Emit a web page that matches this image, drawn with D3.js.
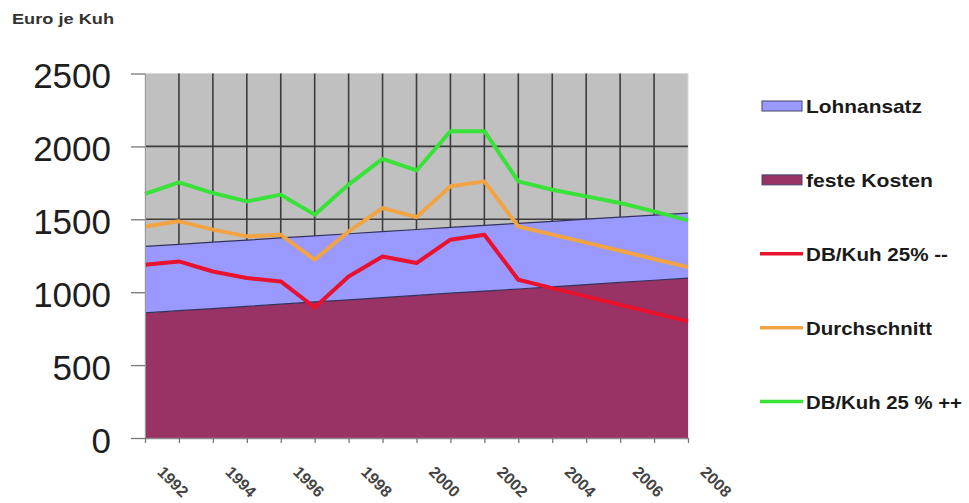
<!DOCTYPE html>
<html>
<head>
<meta charset="utf-8">
<script src="https://cdn.jsdelivr.net/npm/d3@7"></script>
<style>
  html, body { margin: 0; padding: 0; background: #ffffff; }
  svg { display: block; font-family: "Liberation Sans", Arial, sans-serif; }
</style>
</head>
<body>
<svg id="chart" width="969" height="503"></svg>
<script>
// ---- data ----
const years = [1992,1993,1994,1995,1996,1997,1998,1999,2000,2001,2002,2003,2004,2005,2006,2007,2008];
const festeKosten = [858,873,888,903,918,933,948,963,978,993,1008,1022,1037,1052,1067,1082,1097];
const lohnansatz  = [456,455,455,454,454,453,453,452,452,451,451,450,449,449,448,447,446];
const dbMinus     = [1188,1211,1142,1097,1074,895,1108,1245,1200,1360,1394,1085,1028,971,914,857,800];
const durchschnitt= [1451,1486,1429,1383,1394,1223,1417,1577,1515,1726,1760,1451,1395,1340,1284,1228,1172];
const dbPlus      = [1675,1753,1680,1623,1669,1532,1738,1914,1835,2104,2104,1760,1703,1657,1612,1554,1493];
const yTicks = [0,500,1000,1500,2000,2500];
const xLabelYears = [1992,1994,1996,1998,2000,2002,2004,2006,2008];
const yTitle = "Euro je Kuh";
const legendItems = [
  {name: "Lohnansatz", type: "area", key: "lohn"},
  {name: "feste Kosten", type: "area", key: "feste"},
  {name: "DB/Kuh 25% --", type: "line", key: "minus"},
  {name: "Durchschnitt", type: "line", key: "avg"},
  {name: "DB/Kuh 25 % ++", type: "line", key: "plus"}
];

// ---- styling ----
const colors = {lohn: "#9999ff", feste: "#993366", minus: "#e8122e", avg: "#f2a444", plus: "#38e238"};
const legendTextWidth = {lohn: 116, feste: 127, minus: 142, avg: 126, plus: 156};

const svg = d3.select("#chart");
const pLeft = 145, pRight = 688, pTop = 73.5, pBottom = 438;

const x = d3.scaleLinear().domain([1992, 2008]).range([pLeft, pRight]);
const y = d3.scaleLinear().domain([0, 2500]).range([pBottom, pTop]);

// plot background
svg.append("rect")
  .attr("x", pLeft).attr("y", pTop)
  .attr("width", pRight - pLeft).attr("height", pBottom - pTop)
  .attr("fill", "#c0c0c0")
  .attr("stroke", "#d8d8d8").attr("stroke-width", 1);

// gridlines
const grid = svg.append("g");
grid.selectAll("line.v").data(years.slice(1, -1)).join("line")
  .attr("class", "v")
  .attr("x1", d => x(d)).attr("x2", d => x(d))
  .attr("y1", pTop).attr("y2", pBottom)
  .attr("stroke", "#3c3c3c").attr("stroke-width", 1.6);
grid.selectAll("line.h").data(yTicks.filter(v => v > 0 && v < 2500)).join("line")
  .attr("class", "h")
  .attr("x1", pLeft).attr("x2", pRight)
  .attr("y1", d => y(d)).attr("y2", d => y(d))
  .attr("stroke", "#3c3c3c").attr("stroke-width", 1.6);

// stacked areas
const table = years.map((yr, i) => ({year: yr, feste: festeKosten[i], lohn: lohnansatz[i]}));
const stack = d3.stack().keys(["feste", "lohn"]);
const series = stack(table);
const area = d3.area()
  .x(d => x(d.data.year))
  .y0(d => y(d[0]))
  .y1(d => y(d[1]));
const topLine = d3.line().x(d => x(d.data.year)).y(d => y(d[1]));

svg.append("g").selectAll("path").data(series).join("path")
  .attr("d", area)
  .attr("fill", d => colors[d.key]);
svg.append("g").selectAll("path").data(series).join("path")
  .attr("d", topLine)
  .attr("fill", "none")
  .attr("stroke", "#33335a").attr("stroke-width", 1.2);

// lines
const line = d3.line().x((d, i) => x(years[i])).y(d => y(d));
const lineSeries = [
  {key: "minus", values: dbMinus},
  {key: "avg", values: durchschnitt},
  {key: "plus", values: dbPlus}
];
svg.append("g").selectAll("path").data(lineSeries).join("path")
  .attr("d", d => line(d.values))
  .attr("fill", "none")
  .attr("stroke", d => colors[d.key])
  .attr("stroke-width", 4)
  .attr("stroke-linejoin", "round");

// y axis
const yAxis = svg.append("g")
  .attr("transform", `translate(${pLeft},0)`)
  .call(d3.axisLeft(y).tickValues(yTicks).tickFormat(d3.format("d"))
    .tickSize(14).tickPadding(20).tickSizeOuter(0));
yAxis.select(".domain").attr("stroke", "#9a9a9a");
yAxis.selectAll(".tick line").attr("stroke", "#777").attr("stroke-width", 1.3);
yAxis.selectAll(".tick text")
  .attr("font-size", 35)
  .attr("fill", "#1e1e1e")
  .attr("dy", "0.40em");

// x axis
const xAxis = svg.append("g")
  .attr("transform", `translate(0,${pBottom})`)
  .call(d3.axisBottom(x).tickValues(years).tickSize(5).tickSizeOuter(0)
    .tickFormat(d => xLabelYears.includes(d) ? String(d) : ""));
xAxis.select(".domain").attr("stroke", "#8a8a8a").attr("stroke-width", 1.3);
xAxis.selectAll(".tick line").attr("stroke", "#777").attr("stroke-width", 1.3);
xAxis.selectAll(".tick text")
  .attr("x", null).attr("y", null).attr("dy", null)
  .attr("text-anchor", "start")
  .attr("transform", "translate(11,35) rotate(45)")
  .attr("font-size", 16)
  .attr("font-weight", "bold")
  .attr("fill", "#444");

// y title
svg.append("text")
  .attr("x", 12).attr("y", 24)
  .attr("font-size", 15).attr("font-weight", "bold")
  .attr("fill", "#333")
  .attr("textLength", 102).attr("lengthAdjust", "spacingAndGlyphs")
  .text(yTitle);

// legend
const legendY = d3.scalePoint().domain(legendItems.map(d => d.key)).range([106, 401.5]);
const lg = svg.append("g").selectAll("g").data(legendItems).join("g")
  .attr("transform", d => `translate(0,${legendY(d.key)})`);
lg.filter(d => d.type === "area").append("rect")
  .attr("x", 762).attr("y", -5).attr("width", 40).attr("height", 10)
  .attr("fill", d => colors[d.key])
  .attr("stroke", "#44446a").attr("stroke-width", 1);
lg.filter(d => d.type === "line").append("line")
  .attr("x1", 760).attr("x2", 803).attr("y1", 0).attr("y2", 0)
  .attr("stroke", d => colors[d.key]).attr("stroke-width", 3.5);
lg.append("text")
  .attr("x", 806).attr("y", 7)
  .attr("font-size", 19).attr("font-weight", "bold")
  .attr("fill", "#1a1a1a")
  .attr("textLength", d => legendTextWidth[d.key]).attr("lengthAdjust", "spacingAndGlyphs")
  .text(d => d.name);
</script>
</body>
</html>
